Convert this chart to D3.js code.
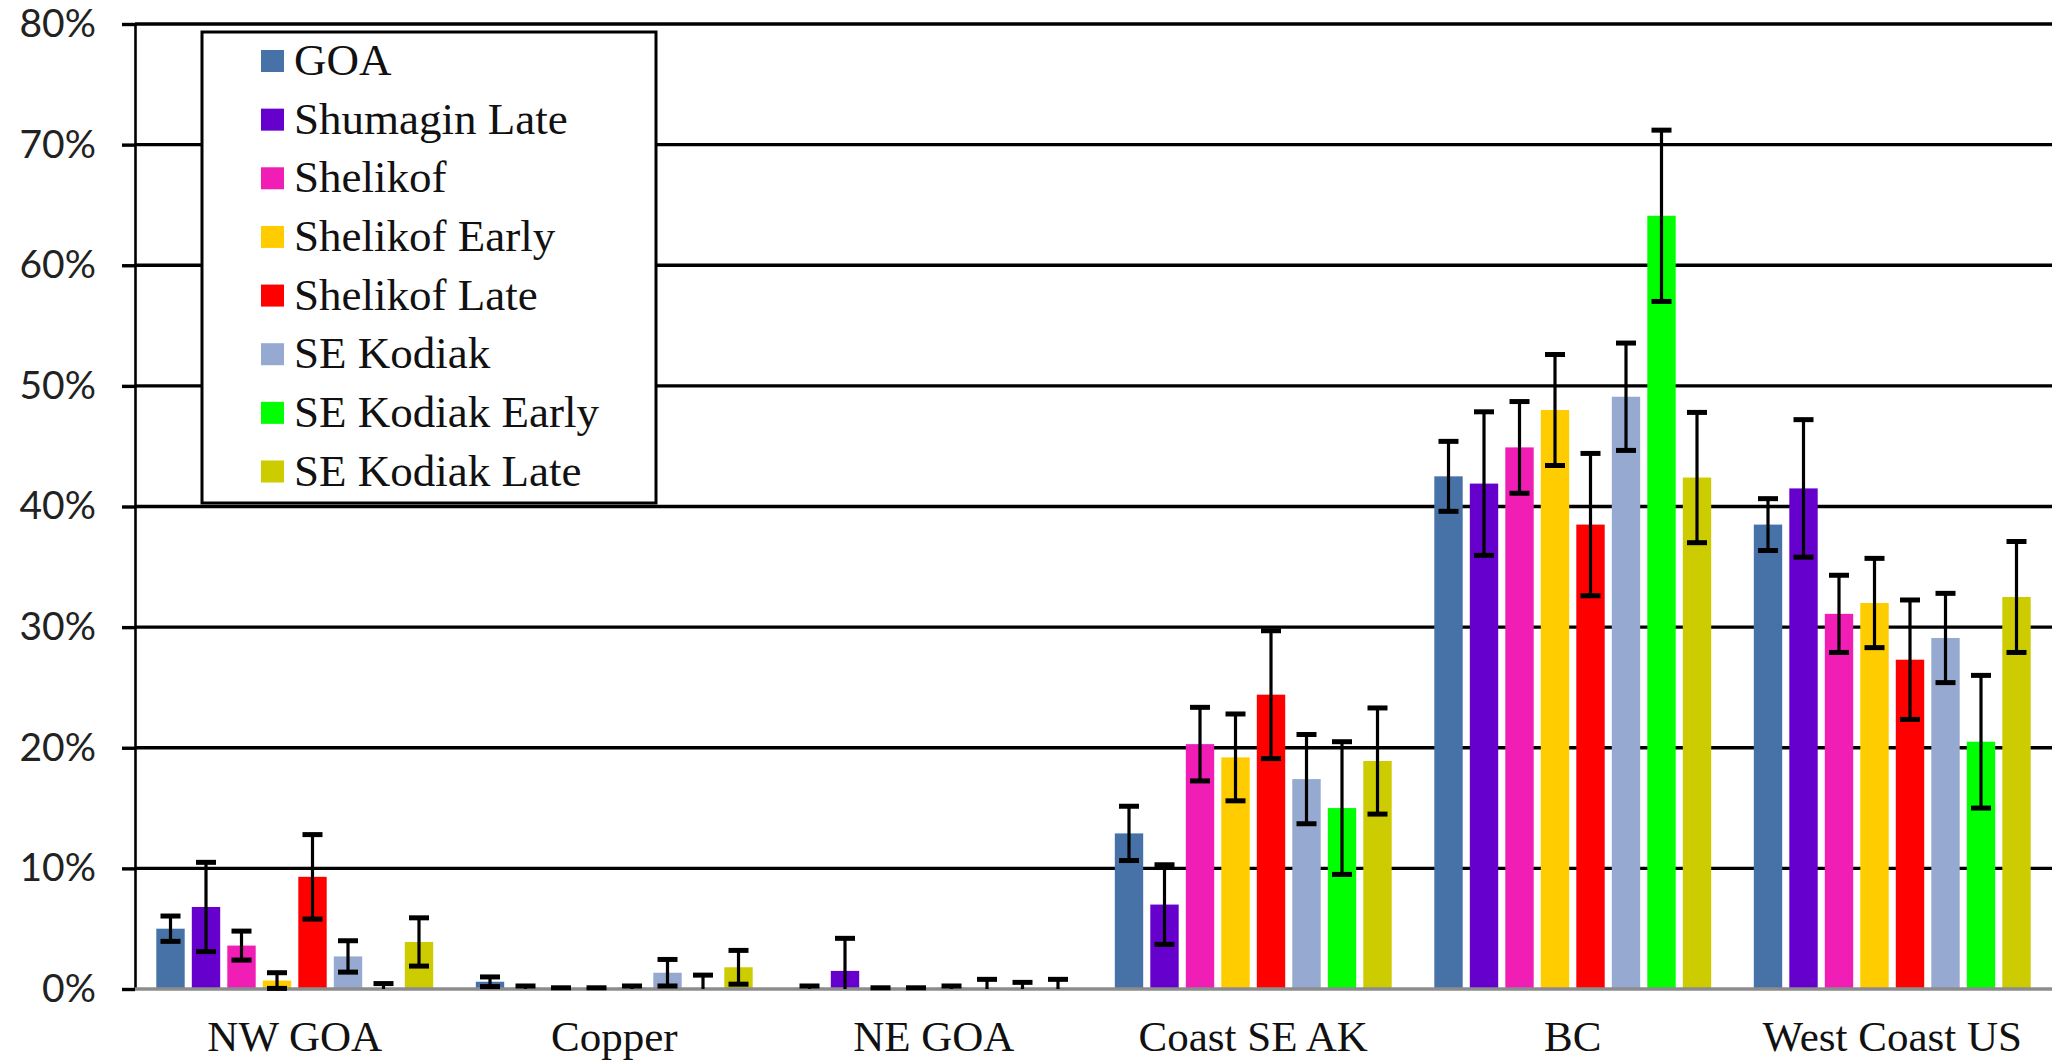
<!DOCTYPE html>
<html>
<head>
<meta charset="utf-8">
<script src="https://cdnjs.cloudflare.com/ajax/libs/d3/7.8.5/d3.min.js"></script>
<style>
  html, body { margin: 0; padding: 0; background: #fff; }
  svg { display: block; }
</style>
</head>
<body>
<svg id="chart" width="2054" height="1064"></svg>
<script>
// ---------------- DATA ----------------
const categories = ["NW GOA", "Copper", "NE GOA", "Coast SE AK", "BC", "West Coast US"];
const seriesNames = ["GOA", "Shumagin Late", "Shelikof", "Shelikof Early", "Shelikof Late", "SE Kodiak", "SE Kodiak Early", "SE Kodiak Late"];
const seriesColors = ["#4672A8", "#6600CC", "#F01EB4", "#FFCC00", "#FF0000", "#95A9D1", "#00FF00", "#CCCC00"];
const yTicks = [0, 10, 20, 30, 40, 50, 60, 70, 80];

// percent values per series, in category order
const goa            = [5.0, 0.6, 0.1, 12.9, 42.5, 38.5];
const shumaginLate   = [6.8, 0.1, 1.5, 7.0, 41.9, 41.5];
const shelikof       = [3.6, 0.05, 0.05, 20.3, 44.9, 31.1];
const shelikofEarly  = [0.7, 0.05, 0.05, 19.2, 48.0, 32.0];
const shelikofLate   = [9.3, 0.1, 0.1, 24.4, 38.5, 27.3];
const seKodiak       = [2.7, 1.35, 0, 17.4, 49.1, 29.1];
const seKodiakEarly  = [0, 0, 0, 15.0, 64.1, 20.5];
const seKodiakLate   = [3.9, 1.8, 0, 18.9, 42.4, 32.5];

// error (half-width, percent)
const goaErr           = [1.05, 0.4, 0.15, 2.25, 2.9, 2.15];
const shumaginLateErr  = [3.7, 0.15, 2.7, 3.3, 5.95, 5.7];
const shelikofErr      = [1.2, 0.05, 0.05, 3.05, 3.8, 3.2];
const shelikofEarlyErr = [0.65, 0.05, 0.05, 3.6, 4.6, 3.7];
const shelikofLateErr  = [3.5, 0.15, 0.15, 5.3, 5.9, 4.95];
const seKodiakErr      = [1.3, 1.1, 0.8, 3.7, 4.45, 3.7];
const seKodiakEarlyErr = [0.45, 1.15, 0.55, 5.5, 7.1, 5.5];
const seKodiakLateErr  = [2.0, 1.4, 0.8, 4.4, 5.4, 4.6];

const seriesValues = [goa, shumaginLate, shelikof, shelikofEarly, shelikofLate, seKodiak, seKodiakEarly, seKodiakLate];
const seriesErrors = [goaErr, shumaginLateErr, shelikofErr, shelikofEarlyErr, shelikofLateErr, seKodiakErr, seKodiakEarlyErr, seKodiakLateErr];

// ---------------- LAYOUT ----------------
const svg = d3.select("#chart");
const plotLeft = 135, plotRight = 2052, plotTop = 24, plotBottom = 989;

const x0 = d3.scaleBand().domain(categories).range([plotLeft, plotRight]).paddingInner(0).paddingOuter(0);
const band = x0.bandwidth();
const gapHalf = band / 15;
const x1 = d3.scaleBand().domain(seriesNames).range([gapHalf, band - gapHalf]).paddingInner(0.2).paddingOuter(0);
const y = d3.scaleLinear().domain([0, 80]).range([plotBottom, plotTop]);

// gridlines (behind bars)
svg.append("g").selectAll("line").data(yTicks.filter(d => d > 0)).join("line")
  .attr("x1", plotLeft).attr("x2", plotRight)
  .attr("y1", d => y(d)).attr("y2", d => y(d))
  .attr("stroke", "#000").attr("stroke-width", 3.4);

// y axis with ticks and labels
const yAxis = d3.axisLeft(y).tickValues(yTicks).tickFormat(d => d + "%").tickSize(13).tickSizeOuter(0).tickPadding(26);
const yg = svg.append("g").attr("transform", `translate(${plotLeft},0)`).call(yAxis);
yg.select(".domain").attr("stroke", "#000").attr("stroke-width", 2.6);
yg.selectAll(".tick line").attr("stroke", "#000").attr("stroke-width", 3.4);
yg.selectAll(".tick text")
  .attr("font-family", "Lato, 'Open Sans', sans-serif")
  .attr("font-size", 39)
  .attr("fill", "#222");

// bars
const rows = [];
seriesNames.forEach((s, si) => {
  categories.forEach((c, ci) => {
    rows.push({ s, c, v: seriesValues[si][ci], e: seriesErrors[si][ci], color: seriesColors[si] });
  });
});

svg.append("g").selectAll("rect").data(rows).join("rect")
  .attr("x", d => x0(d.c) + x1(d.s))
  .attr("width", x1.bandwidth())
  .attr("y", d => y(d.v))
  .attr("height", d => y(0) - y(d.v))
  .attr("fill", d => d.color);

// x axis baseline (grey)
svg.append("line")
  .attr("x1", plotLeft).attr("x2", plotRight)
  .attr("y1", y(0)).attr("y2", y(0))
  .attr("stroke", "#8c8c8c").attr("stroke-width", 3.4);

// error bars
const eg = svg.append("g");
const capHalf = 10;
rows.forEach(d => {
  const cx = x0(d.c) + x1(d.s) + x1.bandwidth() / 2;
  const hi = d.v + d.e;
  const lo = Math.max(0, d.v - d.e);
  eg.append("line").attr("x1", cx).attr("x2", cx).attr("y1", y(hi)).attr("y2", y(lo))
    .attr("stroke", "#000").attr("stroke-width", 3.2);
  eg.append("line").attr("x1", cx - capHalf).attr("x2", cx + capHalf).attr("y1", y(hi)).attr("y2", y(hi))
    .attr("stroke", "#000").attr("stroke-width", 5);
  if (d.v - d.e > 0) {
    eg.append("line").attr("x1", cx - capHalf).attr("x2", cx + capHalf).attr("y1", y(lo)).attr("y2", y(lo))
      .attr("stroke", "#000").attr("stroke-width", 5);
  }
});

// x category labels
svg.append("g").selectAll("text").data(categories).join("text")
  .attr("x", d => x0(d) + band / 2)
  .attr("y", 1051)
  .attr("text-anchor", "middle")
  .attr("font-family", "'Liberation Serif', 'Times New Roman', serif")
  .attr("font-size", 43)
  .attr("fill", "#111")
  .text(d => d);

// legend
const lg = svg.append("g");
lg.append("rect").attr("x", 202).attr("y", 32).attr("width", 454).attr("height", 471)
  .attr("fill", "#fff").attr("stroke", "#000").attr("stroke-width", 3);
const legendY = d3.scalePoint().domain(seriesNames).range([61, 471.5]);
const li = lg.selectAll("g.item").data(seriesNames).join("g").attr("class", "item")
  .attr("transform", d => `translate(0,${legendY(d)})`);
li.append("rect").attr("x", 261).attr("y", -11).attr("width", 23).attr("height", 22)
  .attr("fill", (d, i) => seriesColors[i]);
li.append("text").attr("x", 294).attr("y", 14)
  .attr("font-family", "'Liberation Serif', 'Times New Roman', serif")
  .attr("font-size", 45)
  .attr("fill", "#111")
  .text(d => d);
</script>
</body>
</html>
